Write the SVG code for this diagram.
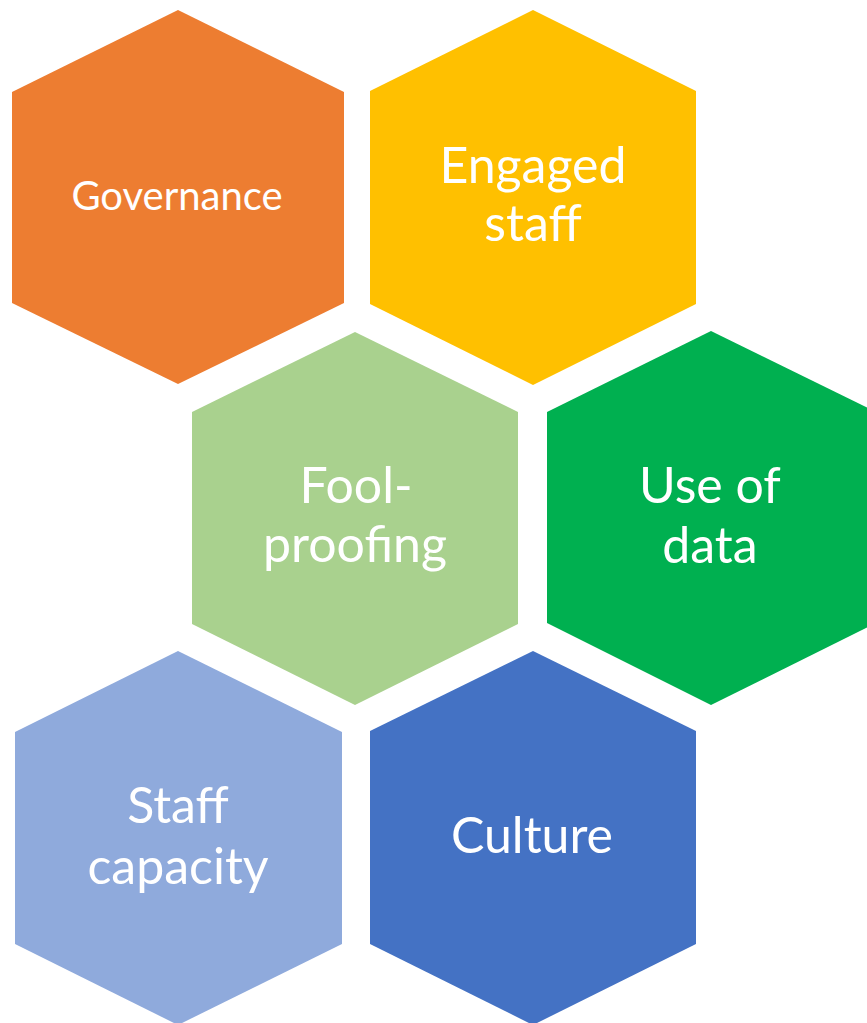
<svg xmlns="http://www.w3.org/2000/svg" width="867" height="1023" viewBox="0 0 867 1023">
<style>
.t{font-family:Lato,"Liberation Sans",sans-serif;fill:#fff;text-anchor:middle;font-size:50px}
</style>
<rect width="867" height="1023" fill="#fff"/>
<g id="governance">
<polygon points="178,10 344,92 344,303 178,384 12,303 12,92" fill="#ED7D31"/>
<text class="t" x="177" y="210" style="font-size:40px">Governance</text>
</g>
<g id="engaged-staff">
<polygon points="533,10 696,91 696,304 533,385 370,304 370,91" fill="#FFC000"/>
<text class="t" x="533" y="183">Engaged</text>
<text class="t" x="533" y="241">staff</text>
</g>
<g id="fool-proofing">
<polygon points="355,332 518,412 518,624 355,705 192,624 192,412" fill="#A9D18E"/>
<text class="t" x="356" y="503">Fool-</text>
<text class="t" x="355" y="562">proofing</text>
</g>
<g id="use-of-data">
<polygon points="711,331 876,412 876,623 711,705 547,623 547,412" fill="#00B050"/>
<text class="t" x="710" y="503">Use of</text>
<text class="t" x="710" y="563">data</text>
</g>
<g id="staff-capacity">
<polygon points="178,651 342,732 342,944 178,1025 15,944 15,732" fill="#8FAADC"/>
<text class="t" x="178" y="823">Staff</text>
<text class="t" x="178" y="884">capacity</text>
</g>
<g id="culture">
<polygon points="533,651 696,731 696,944 533,1025 370,944 370,731" fill="#4472C4"/>
<text class="t" x="532" y="853">Culture</text>
</g>
<g id="connectors"/>
</svg>
